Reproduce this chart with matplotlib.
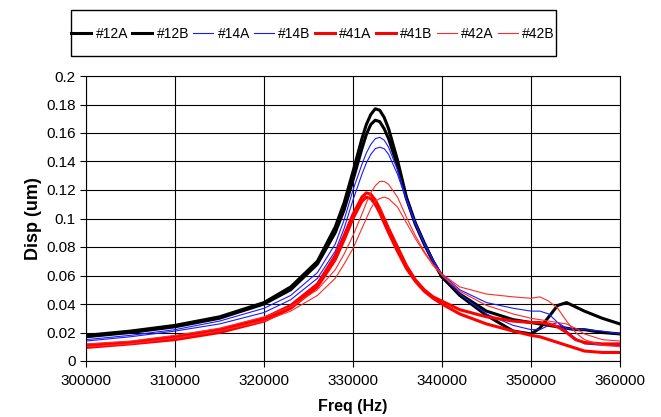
import matplotlib
matplotlib.use("Agg")
import matplotlib.pyplot as plt
from matplotlib.patches import Rectangle

freq = [300000, 305000, 310000, 315000, 320000, 323000, 326000, 328000, 329000, 330000,
        331000, 331500, 332000, 332500, 333000, 333500, 334000, 335000, 336000, 337000,
        338000, 339000, 340000, 342000, 345000, 348000, 350000, 351000, 352000, 353000,
        354000, 355000, 356000, 358000, 360000]

s12A = [0.018, 0.021, 0.025, 0.031, 0.041, 0.052, 0.070, 0.094, 0.111, 0.133,
        0.156, 0.166, 0.173, 0.177, 0.176, 0.171, 0.163, 0.141, 0.115, 0.097,
        0.083, 0.070, 0.059, 0.046, 0.032, 0.021, 0.019, 0.023, 0.031, 0.039,
        0.041, 0.038, 0.035, 0.030, 0.026]
s12B = [0.017, 0.020, 0.024, 0.030, 0.040, 0.050, 0.068, 0.090, 0.106, 0.127,
        0.149, 0.159, 0.166, 0.169, 0.168, 0.163, 0.156, 0.137, 0.114, 0.096,
        0.082, 0.070, 0.059, 0.047, 0.035, 0.029, 0.027, 0.026, 0.025, 0.024,
        0.023, 0.022, 0.022, 0.020, 0.019]
s14A = [0.015, 0.018, 0.022, 0.028, 0.037, 0.046, 0.062, 0.082, 0.099, 0.120,
        0.138, 0.146, 0.152, 0.156, 0.157, 0.155, 0.150, 0.134, 0.114, 0.097,
        0.083, 0.071, 0.061, 0.050, 0.041, 0.037, 0.035, 0.035, 0.033, 0.027,
        0.021, 0.016, 0.012, 0.011, 0.011]
s14B = [0.014, 0.017, 0.021, 0.026, 0.034, 0.043, 0.058, 0.077, 0.093, 0.113,
        0.131, 0.139, 0.145, 0.149, 0.150, 0.149, 0.145, 0.131, 0.113, 0.096,
        0.082, 0.070, 0.060, 0.047, 0.033, 0.025, 0.022, 0.022, 0.025, 0.027,
        0.023, 0.022, 0.022, 0.021, 0.019]
s41A = [0.011, 0.013, 0.017, 0.022, 0.030, 0.039, 0.054, 0.074, 0.088, 0.103,
        0.115, 0.118, 0.117, 0.113, 0.107, 0.100, 0.093, 0.080, 0.067, 0.057,
        0.050, 0.045, 0.042, 0.036, 0.031, 0.028, 0.027, 0.027, 0.026, 0.024,
        0.020, 0.015, 0.013, 0.012, 0.012]
s41B = [0.0095, 0.012, 0.015, 0.020, 0.028, 0.037, 0.052, 0.071, 0.085, 0.100,
        0.112, 0.115, 0.114, 0.110, 0.104, 0.097, 0.090, 0.077, 0.065, 0.056,
        0.049, 0.044, 0.040, 0.033, 0.026, 0.021, 0.018, 0.017, 0.015, 0.013,
        0.011, 0.009, 0.007, 0.006, 0.006]
s42A = [0.012, 0.014, 0.018, 0.023, 0.031, 0.038, 0.050, 0.064, 0.075, 0.088,
        0.103, 0.111, 0.118, 0.123, 0.126, 0.126, 0.124, 0.115, 0.101, 0.088,
        0.077, 0.068, 0.061, 0.052, 0.047, 0.045, 0.044, 0.045, 0.042, 0.037,
        0.028, 0.020, 0.015, 0.011, 0.010]
s42B = [0.010, 0.012, 0.016, 0.021, 0.028, 0.035, 0.046, 0.058, 0.068, 0.079,
        0.093, 0.100, 0.107, 0.112, 0.114, 0.115, 0.114, 0.108, 0.097, 0.086,
        0.076, 0.067, 0.060, 0.049, 0.039, 0.033, 0.030, 0.029, 0.028, 0.027,
        0.026, 0.023, 0.019, 0.015, 0.014]

labels = ["#12A", "#12B", "#14A", "#14B", "#41A", "#41B", "#42A", "#42B"]
series = [s12A, s12B, s14A, s14B, s41A, s41B, s42A, s42B]
colors = ["#000000", "#000000", "#1a1aff", "#1a1aff", "#ff0000", "#ff0000", "#ff2a2a", "#ff2a2a"]
widths = [2.2, 2.2, 0.8, 0.8, 2.2, 2.2, 0.8, 0.8]

xticks = [300000, 310000, 320000, 330000, 340000, 350000, 360000]
yticks = [0, 0.02, 0.04, 0.06, 0.08, 0.1, 0.12, 0.14, 0.16, 0.18, 0.2]
ytick_labels = ["0", "0.02", "0.04", "0.06", "0.08", "0.1", "0.12", "0.14", "0.16", "0.18", "0.2"]

plt.rcParams['font.family'] = ['Liberation Sans', 'DejaVu Sans']

W, H = 661, 417
fig = plt.figure(figsize=(W/100, H/100), dpi=100)
ax = fig.add_axes([86/W, 1-361/H, (620-86)/W, (361-76)/H])

handles = []
for lab, s, c, w in zip(labels, series, colors, widths):
    h, = ax.plot(freq, s, color=c, lw=w, label=lab, solid_joinstyle='round')
    handles.append(h)

ax.set_xlim(300000, 360000)
ax.set_ylim(0, 0.2)
ax.set_xticks(xticks)
ax.set_xticklabels([str(t) for t in xticks])
ax.set_yticks(yticks)
ax.set_yticklabels(ytick_labels)
ax.grid(True, color='black', lw=0.8)
ax.set_axisbelow(True)
for sp in ax.spines.values():
    sp.set_color('black')
    sp.set_linewidth(0.8)
ax.tick_params(direction='out', length=4, width=0.8, labelsize=11, colors='black')
ax.tick_params(axis='x', pad=5.5)
ax.set_xlabel("Freq (Hz)", fontsize=11.5, fontweight='bold', labelpad=8)
ax.set_ylabel("Disp (um)", fontsize=13, fontweight='bold', labelpad=2.5)

leg = fig.legend(handles=handles, labels=labels, loc='center',
                 bbox_to_anchor=(313/W, 1-34/H), ncol=8, fontsize=10,
                 frameon=False, handlelength=1.45, handletextpad=0.3,
                 columnspacing=0.3, borderpad=0.2, borderaxespad=0)
fig.patches.append(Rectangle((71/W, 1-56/H), (556-71)/W, (56-10)/H,
                             transform=fig.transFigure, fill=False,
                             edgecolor='black', lw=1.0))

fig.savefig("out.png", dpi=100)
